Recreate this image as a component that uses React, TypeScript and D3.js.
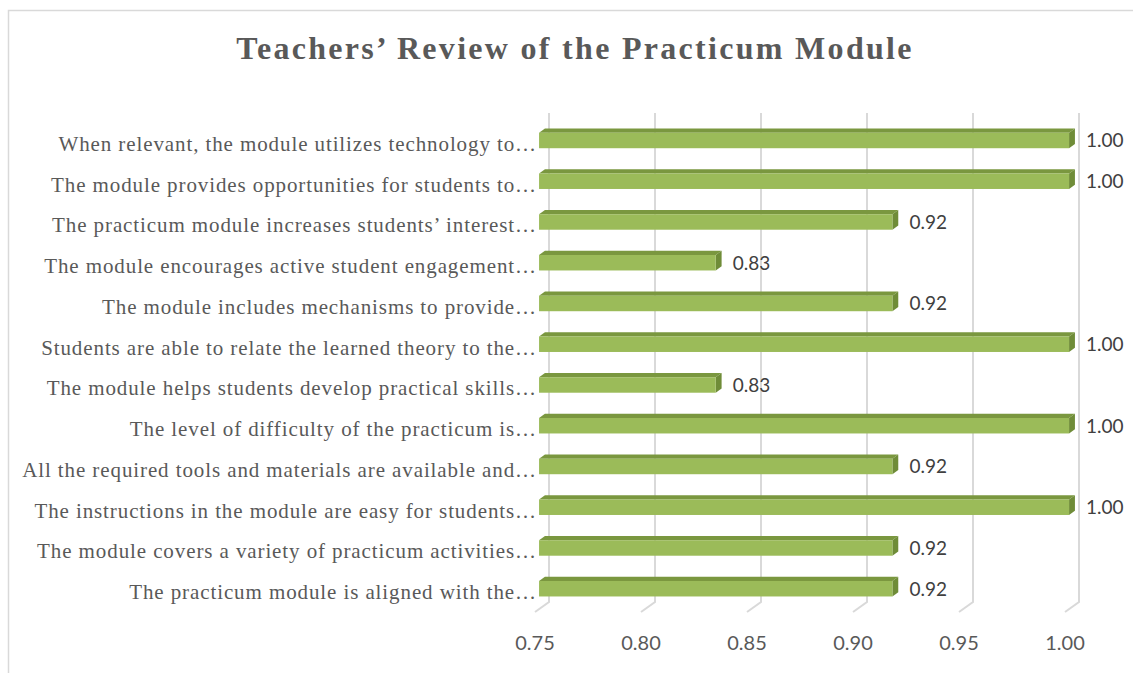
import * as d3 from "d3";

const categories = [
  "When relevant, the module utilizes technology to…",
  "The module provides opportunities for students to…",
  "The practicum module increases students’ interest…",
  "The module encourages active student engagement…",
  "The module includes mechanisms to provide…",
  "Students are able to relate the learned theory to the…",
  "The module helps students develop practical skills…",
  "The level of difficulty of the practicum is…",
  "All the required tools and materials are available and…",
  "The instructions in the module are easy for students…",
  "The module covers a variety of practicum activities…",
  "The practicum module is aligned with the…",
];
const values = [1, 1, 11 / 12, 10 / 12, 11 / 12, 1, 10 / 12, 1, 11 / 12, 1, 11 / 12, 11 / 12];
const ticks = [0.75, 0.8, 0.85, 0.9, 0.95, 1.0];

const W = 1133;
const H = 673;
const plot = { left: 535, right: 1065, top: 123, bottom: 612 };
const depth = { dx: 14, dy: -10 };
const barFront = 0.29;
const barBack = 0.71;

const serif = "'Liberation Serif', 'Times New Roman', serif";
const sans = "Lato, 'Open Sans', sans-serif";

const p = (x: number, y: number, d: number): [number, number] => [
  x + depth.dx * d,
  y + depth.dy * d,
];
const pts = (arr: [number, number][]) => arr.map((q) => q.join(",")).join(" ");

const App = () => {
  const xScale = d3.scaleLinear().domain([0.75, 1.0]).range([plot.left, plot.right]);
  const yScale = d3
    .scaleBand<string>()
    .domain(categories)
    .range([plot.top, plot.bottom])
    .paddingInner(0.62)
    .paddingOuter(0.31);
  const fmt = d3.format(".2f");
  const bw = yScale.bandwidth();

  return (
    <svg
      width={W}
      height={H}
      style={{ position: "absolute", left: 0, top: 0, background: "#fff" }}
    >
      <rect x={8.5} y={10.5} width={1200} height={700} fill="#fff" stroke="#d9d9d9" strokeWidth={1.5} />
      <text
        x={575}
        y={59}
        textAnchor="middle"
        fontFamily={serif}
        fontWeight="bold"
        fontSize={32}
        letterSpacing={2.3}
        fill="#595959"
      >
        Teachers’ Review of the Practicum Module
      </text>

      {/* back wall gridlines with floor edge */}
      {ticks.map((t) => {
        const x = xScale(t);
        return (
          <polyline
            key={t}
            points={pts([p(x, plot.top, 1), p(x, plot.bottom, 1), p(x, plot.bottom, 0)])}
            fill="none"
            stroke="#d9d9d9"
            strokeWidth={2}
          />
        );
      })}

      {ticks.map((t) => (
        <text
          key={t}
          x={xScale(t)}
          y={650}
          textAnchor="middle"
          fontFamily={sans}
          fontSize={20}
          fill="#595959"
        >
          {fmt(t)}
        </text>
      ))}

      {categories.map((c, i) => {
        const y0 = yScale(c) as number;
        const y1 = y0 + bw;
        const x0 = xScale(0.75);
        const x1 = xScale(values[i]);
        const f0 = p(x0, y0, barFront);
        const f1 = p(x1, y1, barFront);
        const yc = y0 + bw / 2;
        return (
          <g key={c}>
            <polygon
              points={pts([p(x0, y0, barFront), p(x1, y0, barFront), p(x1, y0, barBack), p(x0, y0, barBack)])}
              fill="#7a973f"
            />
            <polygon
              points={pts([p(x1, y0, barFront), p(x1, y0, barBack), p(x1, y1, barBack), p(x1, y1, barFront)])}
              fill="#6f8c38"
            />
            <rect x={f0[0]} y={f0[1]} width={f1[0] - f0[0]} height={f1[1] - f0[1]} fill="#9bbb59" />
            <text
              x={f1[0] + 17}
              y={p(0, yc, barFront)[1] + 7}
              fontFamily={sans}
              fontSize={19}
              fill="#404040"
            >
              {fmt(values[i])}
            </text>
            <text
              x={537}
              y={yc + 7.5}
              textAnchor="end"
              fontFamily={serif}
              fontSize={21}
              letterSpacing={0.9}
              fill="#595959"
            >
              {c}
            </text>
          </g>
        );
      })}
    </svg>
  );
};

export default App;
